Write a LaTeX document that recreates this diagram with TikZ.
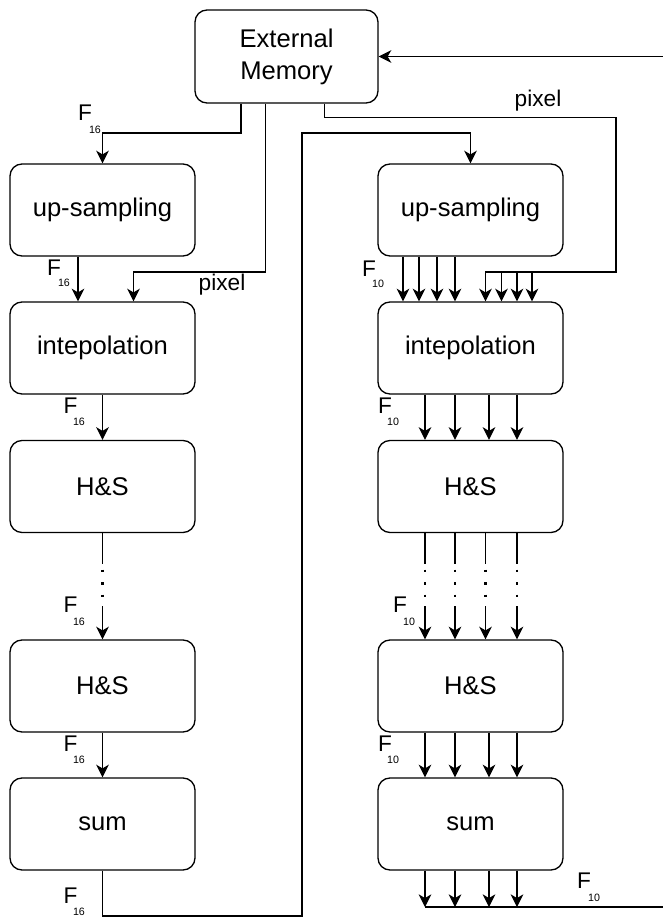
\documentclass[tikz,border=0pt]{standalone}
\usepackage{fontspec}
\setmainfont{Liberation Sans}
\usetikzlibrary{arrows.meta,calc}

\begin{document}
\begin{tikzpicture}[x=0.75pt,y=0.75pt,yscale=-1,xscale=1,
	box/.style={draw, line width=1pt, rounded corners=9pt, minimum width=138.75pt, minimum height=69pt, align=center, font=\fontsize{19.2}{24}\selectfont},
	arr/.style={line width=1pt, -{Stealth[length=9.5pt,width=9.5pt,inset=2.8pt]}},
	wire/.style={line width=1pt},
	dots/.style={line width=2pt, dash pattern=on 2pt off 7.4pt},
	ftxt/.style={font=\fontsize{17}{17}\selectfont, inner sep=0pt},
	subtxt/.style={font=\fontsize{8}{8}\selectfont, inner sep=0pt}]
	\useasboundingbox (0,0) rectangle (663,918);

	%Shape: Boxes
	\node[box, minimum width=137.25pt, minimum height=69.75pt] (mem) at (286.5,56.5) {External\\Memory};
	\node[box] (upL) at (102.5,210) {up-sampling};
	\node[box] (intL) at (102.5,348) {intepolation};
	\node[box] (hsL1) at (102.5,486.5) {H\&S};
	\node[box] (hsL2) at (102.5,686) {H\&S};
	\node[box] (sumL) at (102.5,824) {sum};
	\node[box] (upR) at (470.5,210) {up-sampling};
	\node[box] (intR) at (470.5,348) {intepolation};
	\node[box] (hsR1) at (470.5,486.5) {H\&S};
	\node[box] (hsR2) at (470.5,686) {H\&S};
	\node[box] (sumR) at (470.5,824) {sum};

	%Straight Lines: left column
	\draw[arr] (mem.south -| 241,0) |- (upL.north |- 0,133) -- (upL.north);
	\draw[arr] (mem.south -| 265.5,0) |- (133.5,272) -- (intL.north -| 133.5,0);
	\draw[arr] (upL.south -| 78,0) -- (intL.north -| 78,0);
	\draw[arr] (intL.south) -- (hsL1.north);
	\draw[wire] (hsL1.south) -- ++(0,30.5);
	\draw[dots] ($(hsL1.south)+(0,36.5)$) -- ($(hsL2.north)+(0,-33)$);
	\draw[arr] ($(hsL2.north)+(0,-33)$) -- (hsL2.north);
	\draw[arr] (hsL2.south) -- (sumL.north);
	\draw[arr] (sumL.south) |- (302,916) |- (upR.north |- 0,133) -- (upR.north);

	%Straight Lines: right column
	\draw[arr] (mem.south -| 324.5,0) |- (616,117.5) |- (485.5,272) -- (intR.north -| 485.5,0);
	\foreach \x in {501.5,517,532} \draw[arr] (\x,272) -- (intR.north -| \x,0);
	\foreach \x in {403,419,437,455} \draw[arr] (upR.south -| \x,0) -- (intR.north -| \x,0);
	\foreach \x in {425,455,489,517} \draw[arr] (intR.south -| \x,0) -- (hsR1.north -| \x,0);
	\foreach \x in {425,455,485.5,517} {
		\draw[wire] (hsR1.south -| \x,0) -- ++(0,30.5);
		\draw[dots] ($(hsR1.south -| \x,0)+(0,36.5)$) -- ($(hsR2.north -| \x,0)+(0,-33)$);
		\draw[arr] ($(hsR2.north -| \x,0)+(0,-33)$) -- (hsR2.north -| \x,0);
	}
	\foreach \x in {425,455,489,517} \draw[arr] (hsR2.south -| \x,0) -- (sumR.north -| \x,0);
	\foreach \x in {425,455,489,517} \draw[arr] (sumR.south -| \x,0) -- (\x,907);
	\draw[arr] (425,907) -| (664.5,0 |- mem.east) -- (mem.east);

	% Text Node
	\node[ftxt] (pixL) at (222,284.5) {pixel};
	\node[ftxt] (pixR) at (538,100.5) {pixel};
	% Text Node
	\node[ftxt] (fa) at (85,113) {F};        \node[subtxt] (fa16) at (95,130) {16};
	\node[ftxt] (fb) at (54,268) {F};        \node[subtxt] (fb16) at (64,283) {16};
	\node[ftxt] (fc) at (70.5,406) {F};      \node[subtxt] (fc16) at (79,422) {16};
	\node[ftxt] (fd) at (70.5,605) {F};      \node[subtxt] (fd16) at (79,622) {16};
	\node[ftxt] (fe) at (70.5,744) {F};      \node[subtxt] (fe16) at (79,760) {16};
	\node[ftxt] (ff) at (70.5,896) {F};      \node[subtxt] (ff16) at (79,912) {16};
	% Text Node
	\node[ftxt] (fg) at (369,269) {F};       \node[subtxt] (fg10) at (378,284) {10};
	\node[ftxt] (fh) at (385,406) {F};       \node[subtxt] (fh10) at (393,422) {10};
	\node[ftxt] (fi) at (400,605) {F};       \node[subtxt] (fi10) at (409,622) {10};
	\node[ftxt] (fj) at (385,744) {F};       \node[subtxt] (fj10) at (393,760) {10};
	\node[ftxt] (fk) at (584,881) {F};       \node[subtxt] (fk10) at (594,898) {10};
\end{tikzpicture}
\end{document}
